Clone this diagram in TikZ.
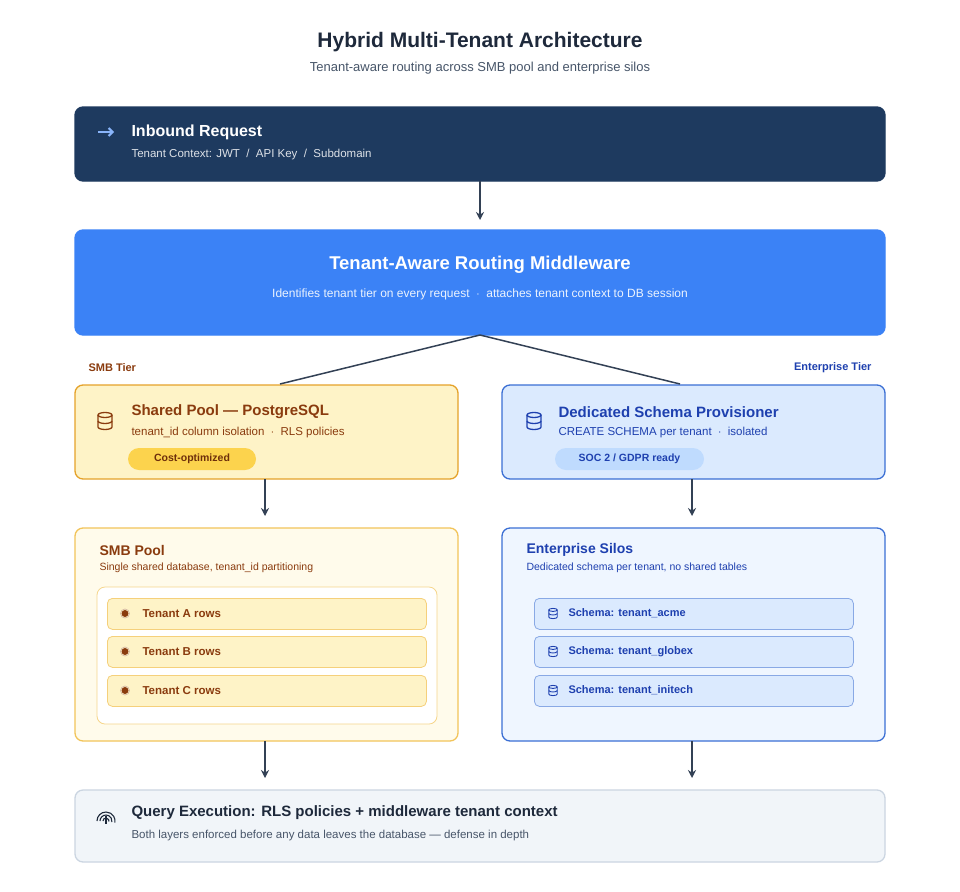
\documentclass[tikz,border=0pt]{standalone}
\usepackage{fontspec}
\setmainfont{Liberation Sans}
\usetikzlibrary{arrows.meta, positioning}
\definecolor{navy}{HTML}{1E3A5F}
\definecolor{mblue}{HTML}{3B82F6}
\definecolor{ybg}{HTML}{FEF3C7}
\definecolor{yline}{HTML}{E5A22A}
\definecolor{ybg2}{HTML}{FFFBEB}
\definecolor{yline2}{HTML}{F2C45A}
\definecolor{ypill}{HTML}{FCD34D}
\definecolor{brown}{HTML}{8A3B0E}
\definecolor{bbg}{HTML}{DBEAFE}
\definecolor{bline}{HTML}{3B6FD4}
\definecolor{bbg2}{HTML}{EFF6FF}
\definecolor{bpill}{HTML}{BFDBFE}
\definecolor{dblue}{HTML}{1E40AF}
\definecolor{gbg}{HTML}{F1F5F9}
\definecolor{gline}{HTML}{CBD5E1}
\definecolor{gtext}{HTML}{475569}
\definecolor{slate}{HTML}{1E293B}
\definecolor{conn}{HTML}{334155}
\tikzset{
  box/.style={rounded corners=8pt, line width=1.3pt},
  hd/.style={anchor=west, font=\fontsize{15}{17}\selectfont\bfseries},
  sb/.style={anchor=west, font=\fontsize{11.5}{13}\selectfont},
  pill/.style={rounded corners=11pt, minimum height=22pt, inner sep=0pt, font=\fontsize{10.5}{12}\selectfont\bfseries},
  rowbox/.style={draw, rounded corners=5pt, line width=0.8pt, minimum width=319pt, minimum height=31pt, anchor=north west},
  rowtxt/.style={anchor=west, font=\fontsize{11.5}{13}\selectfont\bfseries},
  conn/.style={draw=conn, line width=1.5pt},
  arr/.style={conn, -{Stealth[length=8pt, width=8pt]}},
}
\newcommand{\dbicon}[2]{% database glyph
  \begin{scope}[shift={#1}, draw=#2, line width=1.3pt]
    \draw (0,-6) ellipse (7pt and 2.5pt);
    \draw (-7,-6) -- (-7,6) arc (180:360:7pt and 2.5pt) -- (7,-6);
    \draw (-7,0) arc (180:360:7pt and 2.5pt);
  \end{scope}}
\begin{document}
\begin{tikzpicture}[x=1pt, y=-1pt]
\useasboundingbox[fill=white] (0,0) rectangle (960,891);

% title
\node[font=\fontsize{21}{24}\selectfont\bfseries, text=slate] (title) at (480,42) {Hybrid Multi-Tenant Architecture};
\node[font=\fontsize{13}{15}\selectfont, text=gtext] (subtitle) at (480,68) {Tenant-aware routing across SMB pool and enterprise silos};

% inbound
\draw[box, fill=navy, draw=navy] (75,107) rectangle (885,181);
\node (inbound) at (480,144) {};
\draw[line width=2pt, draw=mblue!60, -{Straight Barb[length=4pt]}] (98,132) -- (114,132);
\node[hd, font=\fontsize{16}{18}\selectfont\bfseries, text=white] at (128,132) {Inbound Request};
\node[sb, text=white!85!navy] at (128,155) {Tenant Context: JWT\ \ /\ \ API Key\ \ /\ \ Subdomain};

% middleware
\draw[box, fill=mblue, draw=mblue] (75,230) rectangle (885,335);
\node[font=\fontsize{18.5}{20}\selectfont\bfseries, text=white] (mw) at (480,265) {Tenant-Aware Routing Middleware};
\node[font=\fontsize{12}{14}\selectfont, text=white!90!mblue] at (480,294) {Identifies tenant tier on every request\ \ $\cdot$\ \ attaches tenant context to DB session};
\coordinate (mwb) at (480,335);
\draw[arr] (480,181) -- (480,220);

% tier labels
\node[anchor=west, font=\fontsize{11}{12}\selectfont\bfseries, text=brown] at (85,368) {SMB Tier};
\node[anchor=east, font=\fontsize{11}{12}\selectfont\bfseries, text=dblue] at (875,368) {Enterprise Tier};

% shared pool
\draw[box, fill=ybg, draw=yline] (75,385) rectangle (458,479);
\coordinate (spt) at (280,384);
\dbicon{(105,421)}{brown}
\node[hd, text=brown] at (128,412) {Shared Pool — PostgreSQL};
\node[sb, text=brown] at (128,433) {tenant\_id column isolation\ \ $\cdot$\ \ RLS policies};
\node[pill, fill=ypill, text=brown!80!black, minimum width=128pt] at (192,459) {Cost-optimized};

% dedicated schema
\draw[box, fill=bbg, draw=bline] (502,385) rectangle (885,479);
\coordinate (dst) at (680,384);
\dbicon{(534,421)}{dblue}
\node[hd, text=dblue] at (555,412) {Dedicated Schema Provisioner};
\node[sb, text=dblue] at (555,433) {CREATE SCHEMA per tenant\ \ $\cdot$\ \ isolated};
\node[pill, fill=bpill, text=dblue, minimum width=149pt] at (629.5,459) {SOC 2 / GDPR ready};

\draw[conn] (mwb) -- (spt);
\draw[conn] (mwb) -- (dst);
\draw[arr] (265,479) -- (265,516);
\draw[arr] (692,479) -- (692,516);

% SMB pool
\draw[box, fill=ybg2, draw=yline2] (75,528) rectangle (458,741);
\node[hd, font=\fontsize{14}{16}\selectfont\bfseries, text=brown] at (96,550) {SMB Pool};
\node[sb, font=\fontsize{10.5}{12}\selectfont, text=brown] at (96,568) {Single shared database, tenant\_id partitioning};
\draw[rounded corners=8pt, fill=white, draw=yline2!70, line width=0.8pt] (97,587) rectangle (437,724);
\foreach \y/\t in {598/A, 636/B, 675/C}{
  \node[rowbox, fill=ybg, draw=yline2!80] at (107,\y) {};
  \fill[brown] (125,\y+15.5) circle (3.5pt);
  \draw[brown!40, line width=0.6pt] (125,\y+15.5) circle (4.5pt);
  \node[rowtxt, text=brown] at (139,\y+15.5) {Tenant \t\ rows};
}

% enterprise silos
\draw[box, fill=bbg2, draw=bline] (502,528) rectangle (885,741);
\node[hd, font=\fontsize{14}{16}\selectfont\bfseries, text=dblue] at (523,550) {Enterprise Silos};
\node[sb, font=\fontsize{10.5}{12}\selectfont, text=dblue] at (523,568) {Dedicated schema per tenant, no shared tables};
\foreach \y/\t in {598/acme, 636/globex, 675/initech}{
  \node[rowbox, fill=bbg, draw=bline!60] at (534,\y) {};
  \begin{scope}[shift={(553,\y+15.5)}, scale=0.6, draw=dblue, line width=0.9pt]
    \draw (0,-6) ellipse (7pt and 2.5pt);
    \draw (-7,-6) -- (-7,6) arc (180:360:7pt and 2.5pt) -- (7,-6);
    \draw (-7,0) arc (180:360:7pt and 2.5pt);
  \end{scope}
  \node[rowtxt, font=\fontsize{11}{12}\selectfont\bfseries, text=dblue] at (565,\y+15.5) {Schema: tenant\_\t};
}

\draw[arr] (265,741) -- (265,778);
\draw[arr] (692,741) -- (692,778);

% query execution
\draw[box, fill=gbg, draw=gline] (75,790) rectangle (885,862);
\begin{scope}[shift={(106,817)}, draw=slate, line width=1.1pt]
  \foreach \r in {3,6,9} \draw (-\r,4) arc (180:-10:\r pt);
  \draw (0,-1) -- (0,7);
\end{scope}
\node[hd, text=slate] (query) at (128,813) {Query Execution: RLS policies + middleware tenant context};
\node[sb, text=gtext] at (128,836) {Both layers enforced before any data leaves the database — defense in depth};
\end{tikzpicture}
\end{document}
